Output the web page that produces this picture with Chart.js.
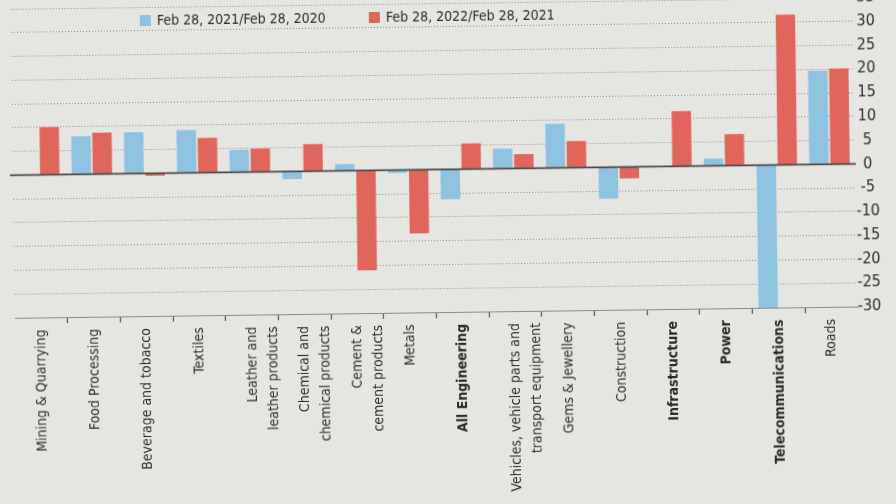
<!DOCTYPE html>
<html lang="en">
<head>
    <meta charset="UTF-8">
    <title>Credit quality by sector</title>
    <script src="https://cdn.jsdelivr.net/npm/chart.js"></script>
    <style>
        html, body {
            margin: 0;
            padding: 0;
            width: 896px;
            height: 504px;
            overflow: hidden;
            background-color: #e5e5e2;
        }
        .sheet {
            position: absolute;
            left: 0;
            top: 0;
            width: 896px;
            height: 504px;
            transform: rotate(-0.77deg);
            transform-origin: 448px 252px;
        }
        .legend {
            position: absolute;
            top: 7px;
            left: 0;
            font-family: 'Liberation Sans Narrow', 'DejaVu Sans Condensed', sans-serif;
            font-size: 14px;
            color: #2a2a2a;
        }
        .legend span.item {
            position: absolute;
            white-space: nowrap;
            line-height: 18px;
        }
        .legend span.box {
            display: inline-block;
            width: 11px;
            height: 11px;
            margin-right: 6px;
            vertical-align: -1px;
        }
        canvas { position: absolute; left: 0; top: 0; }
    </style>
</head>
<body>
<div class="sheet">
    <canvas id="sectorChart" width="896" height="504"></canvas>
    <div class="legend" id="legend"></div>
</div>

<script>
    // sectors along the bottom axis (multi-line where the label wraps)
    var sectors = [
        "Mining & Quarrying",
        "Food Processing",
        "Beverage and tobacco",
        "Textiles",
        ["Leather and", "leather products"],
        ["Chemical and", "chemical products"],
        ["Cement &", "cement products"],
        "Metals",
        "All Engineering",
        ["Vehicles, vehicle parts and", "transport equipment"],
        "Gems & Jewellery",
        "Construction",
        "Infrastructure",
        "Power",
        "Telecommunications",
        "Roads"
    ];
    var boldSectors = ["All Engineering", "Infrastructure", "Power", "Telecommunications"];

    var seriesNames = ["Feb 28, 2021/Feb 28, 2020", "Feb 28, 2022/Feb 28, 2021"];

    // change in credit quality, per cent
    var change2021 = [null, 8.0, 8.7, 9.0, 4.7, -1.6, 1.4, -0.6, -6.3, 4.2, 9.3, -6.6, null, 1.5, -30.3, 19.7];
    var change2022 = [10.0, 8.7, -0.5, 7.3, 4.9, 5.7, -21.0, -13.4, 5.4, 3.0, 5.6, -2.4, 11.6, 6.6, 31.6, 20.1];

    var yMin = -30, yMax = 35, yStep = 5;

    var blue = "#8fc1e1";
    var red = "#e0655a";
    var fontFamily = "'Liberation Sans Narrow', 'DejaVu Sans Condensed', sans-serif";

    // legend sits left of centre, drawn as plain html
    var legend = document.getElementById("legend");
    var legendLeft = [143, 372];
    [blue, red].forEach(function (col, i) {
        var item = document.createElement("span");
        item.className = "item";
        item.style.left = legendLeft[i] + "px";
        item.innerHTML = '<span class="box" style="background:' + col + '"></span>' + seriesNames[i];
        legend.appendChild(item);
    });

    // solid line at zero, over the dotted grid
    var zeroLine = {
        id: "zeroLine",
        afterDatasetsDraw: function (chart) {
            var y = chart.scales.y.getPixelForValue(0);
            var ctx = chart.ctx;
            ctx.save();
            ctx.strokeStyle = "#4a4a4a";
            ctx.lineWidth = 1.6;
            ctx.beginPath();
            ctx.moveTo(chart.chartArea.left - 3, y);
            ctx.lineTo(chart.chartArea.right, y);
            ctx.stroke();
            ctx.restore();
        }
    };

    var ctx = document.getElementById("sectorChart").getContext("2d");
    new Chart(ctx, {
        type: "bar",
        data: {
            labels: sectors,
            datasets: [{
                label: seriesNames[0],
                data: change2021,
                backgroundColor: blue
            }, {
                label: seriesNames[1],
                data: change2022,
                backgroundColor: red
            }]
        },
        options: {
            responsive: false,
            animation: false,
            layout: { padding: { left: 14, top: 3, right: 0, bottom: 0 } },
            datasets: {
                bar: { categoryPercentage: 0.8, barPercentage: 0.92 }
            },
            plugins: {
                legend: { display: false },
                tooltip: { enabled: false }
            },
            scales: {
                x: {
                    afterFit: function (axis) { axis.height = 192; },
                    grid: {
                        drawOnChartArea: false,
                        drawTicks: true,
                        tickLength: 6,
                        tickWidth: 1.2,
                        // only the separators between sectors, not the two ends
                        tickColor: function (c) {
                            return (c.type !== "tick" || c.index === 0) ? "rgba(0,0,0,0)" : "#555";
                        }
                    },
                    border: { display: true, color: "#8a8a8a", width: 1 },
                    ticks: {
                        minRotation: 90,
                        maxRotation: 90,
                        padding: 6,
                        color: "#2b2b2b",
                        font: function (c) {
                            var lbl = sectors[c.index];
                            var bold = boldSectors.indexOf(lbl) >= 0;
                            return { family: fontFamily, size: 14, weight: bold ? "bold" : "normal", lineHeight: 1.5 };
                        }
                    }
                },
                y: {
                    position: "right",
                    min: yMin,
                    max: yMax,
                    afterFit: function (axis) {
                        axis.width = 39;
                        // let the top label run off the edge instead of shrinking the plot
                        axis.paddingTop = 0;
                        axis.paddingBottom = 0;
                    },
                    grid: {
                        color: "#8c8c8c",
                        lineWidth: 1,
                        drawTicks: false
                    },
                    border: { display: false, dash: [1, 2] },
                    ticks: {
                        stepSize: yStep,
                        autoSkip: false,
                        padding: 0,
                        crossAlign: "center",
                        color: "#2b2b2b",
                        font: { family: fontFamily, size: 16 }
                    }
                }
            }
        },
        plugins: [zeroLine]
    });
</script>
</body>
</html>
